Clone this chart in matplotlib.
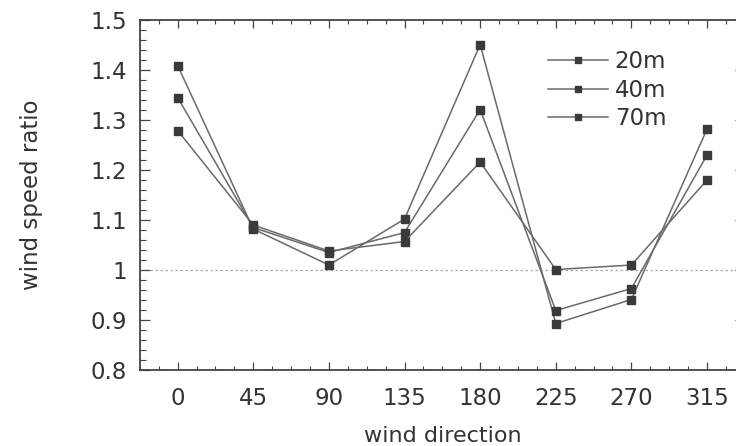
import matplotlib
matplotlib.use("Agg")
import matplotlib.pyplot as plt
from matplotlib.ticker import MultipleLocator

directions = [0, 45, 90, 135, 180, 225, 270, 315]
ratio_20m = [1.409, 1.082, 1.010, 1.102, 1.451, 0.893, 0.941, 1.282]
ratio_40m = [1.345, 1.085, 1.035, 1.075, 1.321, 0.919, 0.963, 1.230]
ratio_70m = [1.279, 1.090, 1.038, 1.057, 1.216, 1.001, 1.010, 1.180]
series_labels = ["20m", "40m", "70m"]
xtick_values = [0, 45, 90, 135, 180, 225, 270, 315]

plt.rcParams['font.family'] = ['DejaVu Sans']

fig = plt.figure(figsize=(7.36, 4.46), dpi=100)
ax = fig.add_axes([0.190, 0.1704, 1.012 - 0.190, 0.955 - 0.1704])

line_color = "#6a6a6a"
marker_color = "#3a3a3a"
for vals, lab in zip([ratio_20m, ratio_40m, ratio_70m], series_labels):
    ax.plot(directions, vals, color=line_color, lw=1.1, marker="s", ms=5.5,
            mfc=marker_color, mec=marker_color, label=lab)

ax.axhline(1.0, color="#aaaaaa", lw=0.9, ls=(0, (2, 2)), zorder=0)

ax.set_xlim(-22.5, 337.5)
ax.set_ylim(0.8, 1.5)
ax.set_xticks(xtick_values)
ax.set_xticklabels([str(v) for v in xtick_values])
ax.xaxis.set_minor_locator(MultipleLocator(11.25))
ax.yaxis.set_major_locator(MultipleLocator(0.1))
ax.yaxis.set_minor_locator(MultipleLocator(0.02))
ax.yaxis.set_major_formatter(plt.FuncFormatter(lambda v, p: ("%g" % round(v, 2))))

ax.tick_params(which="both", direction="in", top=True, right=True, colors="#444444",
               labelcolor="#333333", labelsize=16.5)
ax.tick_params(axis="x", which="major", length=6, width=0.9, pad=12)
ax.tick_params(axis="x", which="minor", length=3, width=0.8)
ax.tick_params(axis="y", which="major", length=7, width=0.9, pad=9)
ax.tick_params(axis="y", which="minor", length=4, width=0.8)
for s in ax.spines.values():
    s.set_color("#444444")
    s.set_linewidth(1.3)

ax.set_xlabel("wind direction", fontsize=16, color="#333333", labelpad=12)
ax.set_ylabel("wind speed ratio", fontsize=16.5, color="#333333", labelpad=34)

leg = ax.legend(loc="upper left", bbox_to_anchor=(0.66, 0.941), frameon=False,
                fontsize=16.5, handlelength=2.6, handletextpad=0.3,
                labelspacing=0.25, borderaxespad=0, markerscale=0.85)
for t in leg.get_texts():
    t.set_color("#333333")

fig.savefig("out.png", dpi=100)
